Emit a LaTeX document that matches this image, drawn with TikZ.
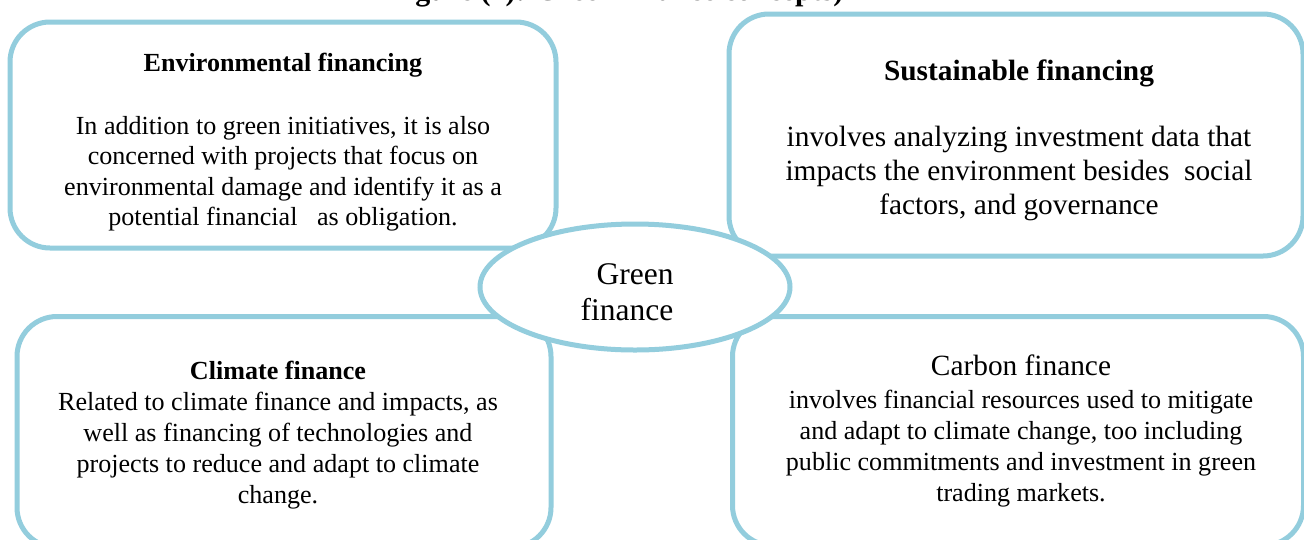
\documentclass[tikz,border=0pt]{standalone}
\usepackage{fontspec}
\setmainfont{Liberation Serif}
\usetikzlibrary{positioning,shapes.geometric}

\definecolor{cardblue}{RGB}{147,205,221}
\newcommand{\px}{0.46pt}

\begin{document}
\begin{tikzpicture}[x=0.46pt, y=-0.46pt, thick]

    % Define styles
    \tikzstyle{card} = [draw=cardblue, line width=5*\px, rectangle, rounded corners=40*\px, inner sep=0pt]
    \tikzstyle{hub} = [draw=cardblue, line width=5*\px, ellipse, fill=white, inner sep=0pt]
    \tikzstyle{txt} = [align=center, inner sep=0pt]

    \useasboundingbox (0,0) rectangle (1304,539);
    \fill[white] (0,0) rectangle (1304,539);

    % CAPTION (cut by the page top)
    \node (caption) [anchor=base, font=\bfseries\fontsize{13.8}{15}\selectfont] at (616,0.8) {Figure (1): Green finance concepts)};

    % CARDS
    \node (envfin) [card, minimum width=546*\px, minimum height=226*\px] at (283,135) {};
    \node (susfin) [card, minimum width=574*\px, minimum height=242*\px] at (1016,135) {};
    \node (climfin) [card, minimum width=534*\px, minimum height=231*\px] at (284,432) {};
    \node (carbfin) [card, minimum width=571*\px, minimum height=229*\px] at (1018,431) {};

    % CARD TEXTS
    \node (envfin_text) [txt, font=\fontsize{12}{14}\selectfont] at ([yshift=-7*\px]envfin.center)
        {\textbf{Environmental financing}\\[15pt]
         In addition to green initiatives, it is also\\
         concerned with projects that focus on\\
         environmental damage and identify it as a\\
         potential financial \ \ as obligation.};

    \node (susfin_text) [txt, font=\fontsize{13.5}{15.6}\selectfont] at ([xshift=3*\px, yshift=-5*\px]susfin.center)
        {\textbf{Sustainable financing}\\[15pt]
         involves analyzing investment data that\\
         impacts the environment besides \ social\\
         factors, and governance};

    \node (climfin_text) [txt, font=\fontsize{12}{14.3}\selectfont] at ([xshift=-6*\px, yshift=-3*\px]climfin.center)
        {\textbf{Climate finance}\\
         Related to climate finance and impacts, as\\
         well as financing of technologies and\\
         projects to reduce and adapt to climate\\
         change.};

    \node (carbfin_text) [txt, font=\fontsize{12}{14.3}\selectfont] at ([xshift=3*\px]carbfin.center)
        {{\fontsize{13.5}{15}\selectfont Carbon finance}\\[1pt]
         involves financial resources used to mitigate\\
         and adapt to climate change, too including\\
         public commitments and investment in green\\
         trading markets.};

    % CENTRE
    \node (green) [hub, minimum width=310*\px, minimum height=126*\px] at (635,287) {};
    \node (green_text) [txt, font=\fontsize{14.5}{16.6}\selectfont] at ([yshift=-5*\px]green.center)
        {Green\\ \hspace*{-7.4pt}finance};

\end{tikzpicture}
\end{document}
